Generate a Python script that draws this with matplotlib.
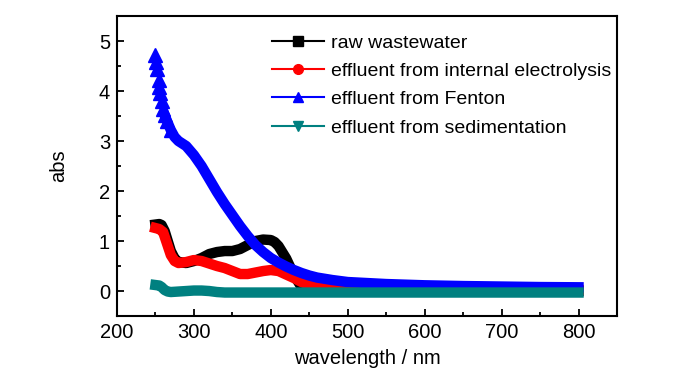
import matplotlib.pyplot as plt
from matplotlib.lines import Line2D
from matplotlib.ticker import MultipleLocator

plt.rcParams['font.family'] = ['Liberation Sans', 'DejaVu Sans']

# absorbance spectra
raw_wl = [250, 255, 258, 262, 266, 270, 275, 280, 290, 300, 310, 320, 330, 340, 350,
          360, 370, 380, 390, 400, 405, 410, 420, 430, 440, 450, 500, 600, 700, 800]
raw_abs = [1.33, 1.34, 1.32, 1.2, 1.0, 0.8, 0.65, 0.58, 0.56, 0.6, 0.66, 0.74, 0.78, 0.8, 0.8,
           0.84, 0.92, 1.0, 1.03, 1.02, 0.98, 0.9, 0.65, 0.32, 0.08, 0.02, 0.0, 0.0, 0.0, 0.0]

ie_wl = [250, 255, 260, 265, 270, 275, 280, 290, 300, 310, 320, 330, 340, 350, 360,
         370, 380, 390, 400, 410, 420, 430, 440, 450, 460, 480, 500, 600, 700, 800]
ie_abs = [1.26, 1.24, 1.18, 0.95, 0.72, 0.6, 0.56, 0.58, 0.62, 0.6, 0.55, 0.5, 0.46, 0.4, 0.34,
          0.34, 0.37, 0.4, 0.42, 0.4, 0.33, 0.26, 0.18, 0.12, 0.08, 0.05, 0.04, 0.03, 0.02, 0.02]

fenton_wl = [250, 251, 252, 254, 255, 256, 258, 260, 262, 265, 270, 275, 280, 290, 300,
             310, 320, 330, 340, 350, 360, 370, 380, 390, 400, 410, 420, 430, 440, 450,
             460, 480, 500, 550, 600, 650, 700, 750, 800]
fenton_abs = [4.72, 4.58, 4.44, 4.22, 4.08, 3.96, 3.8, 3.65, 3.52, 3.4, 3.22, 3.08, 3.0, 2.9, 2.72,
              2.5, 2.24, 1.98, 1.74, 1.52, 1.3, 1.1, 0.92, 0.78, 0.66, 0.57, 0.49, 0.42, 0.36, 0.31,
              0.27, 0.22, 0.18, 0.14, 0.115, 0.1, 0.09, 0.08, 0.075]

sed_wl = [250, 255, 258, 262, 266, 270, 280, 290, 300, 310, 320, 330, 340, 350, 400,
          500, 600, 700, 800]
sed_abs = [0.12, 0.11, 0.08, 0.02, -0.01, -0.02, -0.01, 0.0, 0.01, 0.01, 0.0, -0.02, -0.03, -0.03, -0.03,
           -0.03, -0.03, -0.03, -0.03]

labels = ["raw wastewater", "effluent from internal electrolysis",
          "effluent from Fenton", "effluent from sedimentation"]
colors = ["black", "#ff0000", "#0000ff", "#008080"]
markers = ["s", "o", "^", "v"]

fig = plt.figure(figsize=(7, 3.74), dpi=100)
ax = fig.add_axes([0.1671, 0.155, 0.7143, 0.802])

ax.plot(raw_wl, raw_abs, color=colors[0], lw=7.5, solid_joinstyle='round')
ax.plot(ie_wl, ie_abs, color=colors[1], lw=7.5, solid_joinstyle='round')
# Fenton: thick band below the top, loose triangles at the top
ax.plot(fenton_wl[8:], fenton_abs[8:], color=colors[2], lw=7.5, solid_joinstyle='round')
ax.plot(fenton_wl[:11], fenton_abs[:11], ls='none', marker='^', ms=10, color=colors[2])
ax.plot(sed_wl, sed_abs, color=colors[3], lw=7.5, solid_joinstyle='round')

ax.set_xlim(200, 850)
ax.set_ylim(-0.5, 5.5)
ax.xaxis.set_major_locator(MultipleLocator(100))
ax.xaxis.set_minor_locator(MultipleLocator(50))
ax.yaxis.set_major_locator(MultipleLocator(1))
ax.yaxis.set_minor_locator(MultipleLocator(0.5))
ax.tick_params(which='both', direction='in', width=1.3, labelsize=14.5)
ax.tick_params(which='major', length=5, pad=5)
ax.tick_params(which='minor', length=3)
for s in ax.spines.values():
    s.set_linewidth(1.5)

ax.set_xlabel("wavelength / nm", fontsize=14.5, labelpad=5)
ax.set_ylabel("abs", fontsize=14.5, labelpad=22)

handles = [Line2D([], [], color=c, marker=m, ms=7, lw=1.5) for c, m in zip(colors, markers)]
ax.legend(handles, labels, loc='upper left', bbox_to_anchor=(0.31, 0.94), frameon=False,
          fontsize=14, handlelength=2.7, handletextpad=0.35, labelspacing=0.55, borderpad=0,
          borderaxespad=0)

fig.savefig("out.png", dpi=100)
